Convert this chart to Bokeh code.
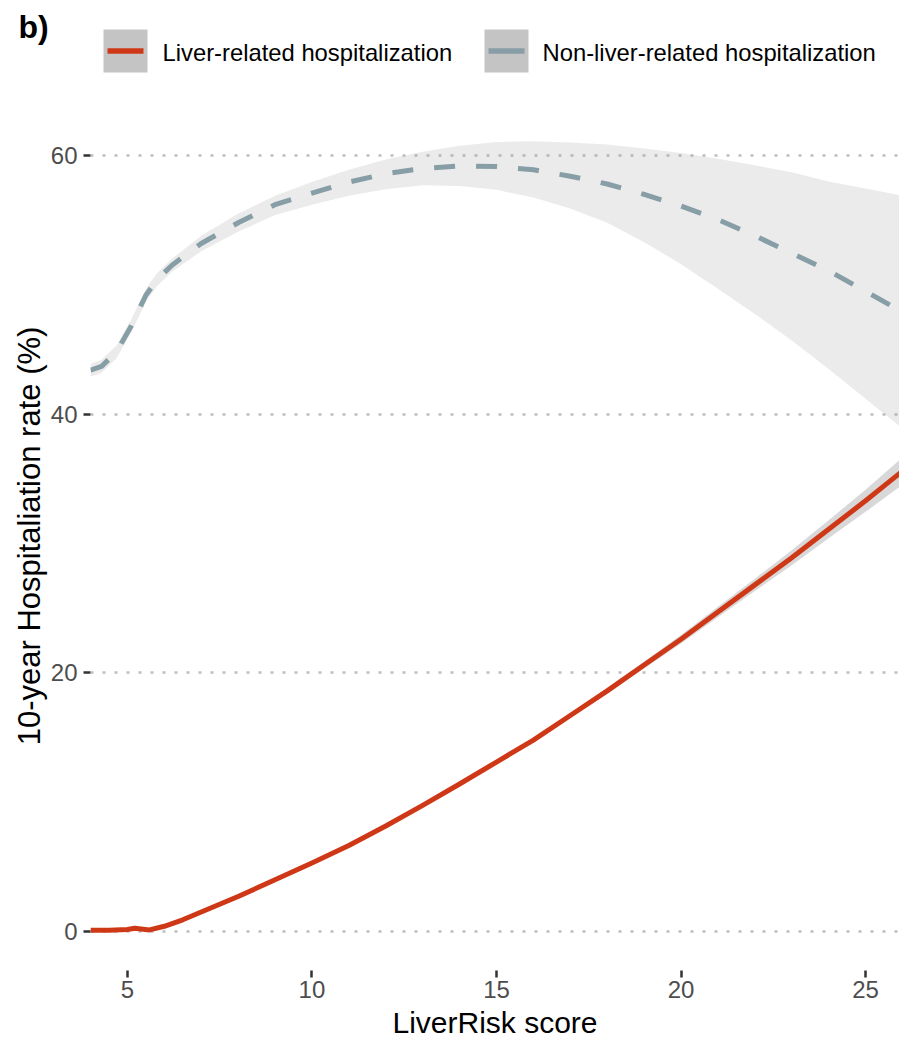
from bokeh.plotting import figure
from bokeh.models import Range1d, FixedTicker
from bokeh.core.properties import value
from bokeh.embed import file_html
from bokeh.resources import INLINE

FONT_NAME = "Liberation Sans"
FONT = value(FONT_NAME)

# --- data -------------------------------------------------------------
score = [4.0, 4.3, 4.7, 5.1, 5.5, 5.8, 6.2, 7.0, 8.0, 9.0, 10.0, 11.0, 12.0,
         13.0, 14.0, 15.0, 16.0, 17.0, 18.0, 19.0, 20.0, 21.0, 22.0, 23.0,
         24.0, 25.0, 26.0]
nonliver_rate = [43.4, 43.7, 44.8, 46.8, 49.2, 50.4, 51.5, 53.2, 54.8, 56.2,
                 57.1, 57.95, 58.6, 59.0, 59.2, 59.15, 58.9, 58.4, 57.8,
                 57.0, 56.1, 55.05, 53.8, 52.45, 51.1, 49.5, 47.9]
nonliver_upper = [43.9, 44.2, 45.3, 47.3, 49.7, 50.9, 52.0, 53.8, 55.5, 56.9,
                  57.95, 58.9, 59.7, 60.3, 60.75, 61.05, 61.1, 61.0, 60.85,
                  60.55, 60.2, 59.75, 59.25, 58.7, 58.0, 57.45, 56.9]
nonliver_lower = [42.9, 43.2, 44.3, 46.3, 48.7, 49.9, 51.0, 52.6, 54.1, 55.4,
                  56.2, 56.9, 57.4, 57.7, 57.65, 57.35, 56.75, 55.9, 54.8,
                  53.3, 51.6, 49.7, 47.75, 45.7, 43.5, 41.2, 38.9]

score_liver = [4.0, 4.5, 5.0, 5.2, 5.6, 6.0, 6.5, 7.0, 8.0, 9.0, 10.0, 11.0,
               12.0, 13.0, 14.0, 15.0, 16.0, 17.0, 18.0, 19.0, 20.0, 21.0,
               22.0, 23.0, 24.0, 25.0, 26.0]
liver_rate = [0.1, 0.1, 0.15, 0.25, 0.12, 0.4, 0.9, 1.5, 2.7, 4.0, 5.3, 6.65,
              8.15, 9.75, 11.4, 13.1, 14.8, 16.7, 18.6, 20.6, 22.6, 24.7, 26.8,
              28.9, 31.1, 33.3, 35.6]
liver_upper = [0.2, 0.2, 0.25, 0.35, 0.22, 0.5, 1.0, 1.6, 2.8, 4.1, 5.4, 6.75,
               8.25, 9.85, 11.5, 13.22, 14.95, 16.88, 18.82, 20.87, 22.93,
               25.1, 27.28, 29.48, 31.8, 34.15, 36.65]
liver_lower = [0.0, 0.0, 0.05, 0.15, 0.02, 0.3, 0.8, 1.4, 2.6, 3.9, 5.2, 6.55,
               8.05, 9.65, 11.3, 12.98, 14.65, 16.52, 18.38, 20.33, 22.27,
               24.3, 26.32, 28.32, 30.4, 32.45, 34.55]

series_labels = ["Liver-related hospitalization", "Non-liver-related hospitalization"]
x_ticks = [5, 10, 15, 20, 25]
y_ticks = [0, 20, 40, 60]

RED = "#cf3816"
SLATE = "#879ea6"

# --- header: panel tag and legend ---------------------------------------
hdr = figure(width=899, height=101, frame_width=899, frame_height=101,
             x_range=Range1d(0, 899), y_range=Range1d(101, 0),
             toolbar_location=None, output_backend="svg", min_border=0,
             x_axis_type=None, y_axis_type=None)
hdr.outline_line_color = None
hdr.background_fill_color = "white"

hdr.text(x=[18], y=[26], text=["b)"], text_font=FONT, text_font_style="bold",
         text_font_size="32px", text_baseline="middle", text_color="black")
hdr.quad(left=[103, 484], right=[147, 528], top=[29, 29], bottom=[72, 72],
         fill_color="#c4c4c4", line_color=None)
hdr.segment(x0=[107], y0=[50.5], x1=[143], y1=[50.5], line_color=RED, line_width=5.5)
hdr.segment(x0=[488], y0=[50.5], x1=[524], y1=[50.5], line_color=SLATE, line_width=5.5)
hdr.text(x=[162, 542], y=[51.7, 51.7], text=series_labels, text_font=FONT,
         text_font_size="23.8px", text_baseline="middle", text_color="black")

# --- main panel ---------------------------------------------------------
p = figure(frame_width=809, frame_height=869,
           x_range=Range1d(4.0, 25.92), y_range=Range1d(-3.02, 64.18),
           toolbar_location=None, output_backend="svg",
           min_border_left=90, min_border_right=0, min_border_top=0,
           min_border_bottom=75)
p.outline_line_color = None
p.background_fill_color = "white"

p.varea(x=score, y1=nonliver_lower, y2=nonliver_upper,
        fill_color="#999999", fill_alpha=0.2)
p.varea(x=score_liver, y1=liver_lower, y2=liver_upper,
        fill_color="#999999", fill_alpha=0.38)
p.line(x=score, y=nonliver_rate, line_color=SLATE, line_width=5,
       line_dash="21 21", line_join="round")
p.line(x=score_liver, y=liver_rate, line_color=RED, line_width=5,
       line_join="round")

p.xgrid.visible = False
p.ygrid.grid_line_color = "#bebebe"
p.ygrid.grid_line_width = 2.5
p.ygrid.grid_line_dash = "3 9"

p.xaxis.ticker = FixedTicker(ticks=x_ticks)
p.yaxis.ticker = FixedTicker(ticks=y_ticks)
for ax in (p.xaxis[0], p.yaxis[0]):
    ax.axis_line_color = None
    ax.major_tick_line_color = "#333333"
    ax.major_tick_line_width = 2.5
    ax.major_tick_out = 7
    ax.major_tick_in = 0
    ax.minor_tick_line_color = None
    ax.major_label_text_font = FONT_NAME
    ax.major_label_text_font_size = "24px"
    ax.major_label_text_color = "#4d4d4d"
    ax.axis_label_text_font = FONT_NAME
    ax.axis_label_text_font_style = "normal"
    ax.axis_label_text_color = "black"

p.xaxis.axis_label_text_font_size = "30px"
p.yaxis.axis_label_text_font_size = "31px"
p.xaxis.axis_label = "LiverRisk score"
p.yaxis.axis_label = "10-year Hospitaliation rate (%)"
p.xaxis.major_label_standoff = 3
p.yaxis.major_label_standoff = 6
p.xaxis.axis_label_standoff = 5
p.yaxis.axis_label_standoff = 1

# two independent roots stacked on the page: header above the panel
open("out.html", "w").write(file_html([hdr, p], INLINE))
